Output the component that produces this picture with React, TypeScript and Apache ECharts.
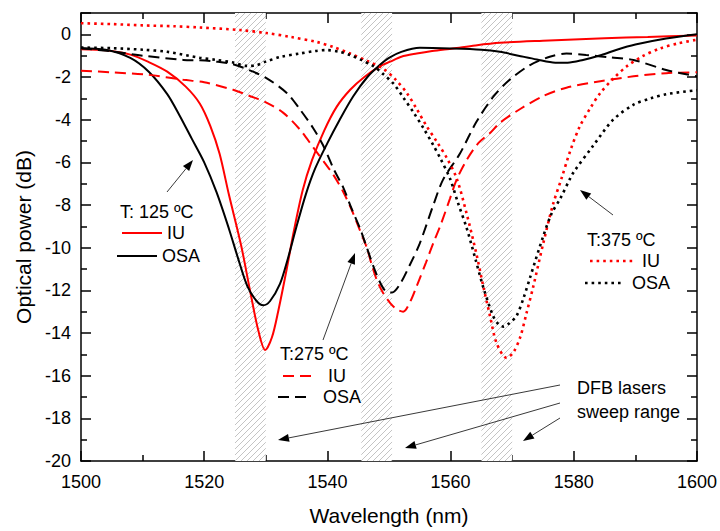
import React, { useEffect, useRef } from "react";
import * as echarts from "echarts";

// ---- data (wavelength nm, optical power dB) ----
const iu125: number[][] = [
  [1500, -0.7], [1504, -0.75], [1508, -0.95], [1511, -1.3], [1514, -1.75], [1517, -2.45],
  [1519.3, -3.25], [1521, -4.3], [1522.5, -5.6], [1524, -7.5], [1526, -9.9], [1527.5, -12.1],
  [1528.8, -13.9], [1529.9, -14.8], [1531, -14.2], [1532, -13.0], [1533.4, -11.0], [1534.5, -9.3],
  [1536, -7.3], [1537.5, -5.9], [1539.5, -4.5], [1541.5, -3.4], [1543.7, -2.6], [1546, -2.0],
  [1548.5, -1.5], [1550.2, -1.28], [1552, -1.05], [1554.5, -0.9], [1557, -0.78], [1560.4, -0.66],
  [1564, -0.52], [1568, -0.4], [1575, -0.3], [1585, -0.18], [1592, -0.12], [1600, -0.05],
];
const osa125: number[][] = [
  [1500, -0.65], [1504, -0.72], [1508, -1.1], [1511, -1.75], [1514, -2.8], [1516, -3.8],
  [1518, -4.9], [1520, -6.0], [1522, -7.4], [1524, -9.1], [1525.5, -10.5], [1527, -11.8],
  [1528.5, -12.5], [1529.6, -12.7], [1530.7, -12.5], [1532.3, -11.7], [1533.5, -10.6], [1535, -9.0],
  [1536.5, -7.5], [1538, -6.3], [1540, -5.1], [1542, -4.0], [1544.2, -2.9], [1546.5, -2.0],
  [1548.5, -1.44], [1550, -1.1], [1552, -0.82], [1555, -0.63], [1560, -0.66], [1565, -0.72],
  [1568, -0.82], [1571, -1.0], [1574, -1.18], [1577, -1.33], [1579, -1.33], [1581.5, -1.2],
  [1584.5, -0.97], [1587, -0.72], [1590, -0.48], [1595, -0.2], [1600, 0],
];
const iu275: number[][] = [
  [1500, -1.71], [1505, -1.78], [1511, -1.9], [1516.6, -2.13], [1520, -2.25], [1524.7, -2.6],
  [1527.5, -2.9], [1530.1, -3.2], [1532.8, -3.67], [1535.5, -4.45], [1537.7, -5.3], [1539.5, -6.0],
  [1541, -6.6], [1542.6, -7.4], [1543.9, -8.2], [1545.3, -9.2], [1546.4, -10.0], [1547.2, -10.8],
  [1548, -11.5], [1549, -12.1], [1550.2, -12.6], [1551.3, -12.9], [1552.3, -13.0], [1553.5, -12.5],
  [1554.5, -11.8], [1556, -10.7], [1557.3, -9.7], [1558.3, -9.0], [1559.9, -7.7], [1561, -6.8],
  [1562.6, -5.9], [1564.5, -5.1], [1566.5, -4.6], [1568, -4.15], [1571.3, -3.5], [1575, -2.9],
  [1578.8, -2.5], [1584.3, -2.2], [1589.7, -1.97], [1595, -1.82], [1600, -1.78],
];
const osa275: number[][] = [
  [1500, -0.65], [1505, -0.8], [1510, -1.0], [1516.6, -1.2], [1519.3, -1.22], [1522, -1.28],
  [1524.7, -1.4], [1527.5, -1.7], [1530.1, -2.05], [1533.4, -2.75], [1535.5, -3.5], [1537.7, -4.4],
  [1539.3, -5.2], [1541, -6.3], [1542.6, -7.2], [1543.9, -8.15], [1545.3, -9.1], [1546.4, -10.0],
  [1547.5, -10.9], [1548.5, -11.6], [1549.5, -12.05], [1550.5, -12.1], [1551.8, -11.7], [1553.4, -10.8],
  [1555, -9.8], [1557.2, -8.0], [1558.8, -6.8], [1561.5, -5.6], [1564.2, -4.1], [1567, -2.9],
  [1569.6, -2.13], [1572.9, -1.44], [1576.1, -1.05], [1578.8, -0.9], [1582, -0.97], [1586, -1.08],
  [1589.7, -1.2], [1595, -1.67], [1600, -1.97],
];
const iu375: number[][] = [
  [1500, 0.52], [1505, 0.48], [1510, 0.42], [1515, 0.38], [1519.3, 0.32], [1525.8, 0.2],
  [1530.1, 0.06], [1534, -0.12], [1538.3, -0.36], [1541, -0.6], [1543.7, -0.9], [1546.5, -1.25],
  [1549, -1.6], [1551, -2.1], [1552.9, -2.75], [1554.5, -3.5], [1556.1, -4.3], [1557.8, -5.05],
  [1559.4, -5.8], [1561, -6.76], [1562.6, -8.4], [1564.2, -10.3], [1565.3, -11.8], [1566.4, -13.2],
  [1567.5, -14.5], [1569.1, -15.17], [1570.2, -14.9], [1571.3, -14.2], [1572.3, -13.1], [1573.4, -11.85],
  [1575, -9.85], [1576.6, -8.0], [1578, -6.76], [1579.5, -5.4], [1581, -4.3], [1582.7, -3.45],
  [1584.3, -2.75], [1586.5, -2.05], [1588.6, -1.5], [1591, -1.05], [1594, -0.66], [1597, -0.42],
  [1600, -0.25],
];
const osa375: number[][] = [
  [1500, -0.62], [1505, -0.65], [1510, -0.72], [1514, -0.82], [1519.3, -1.1], [1522, -1.2],
  [1524.7, -1.32], [1526.9, -1.48], [1528.5, -1.45], [1530, -1.28], [1532.5, -1.05], [1535.5, -0.9],
  [1538, -0.78], [1539.9, -0.74], [1542, -0.82], [1543.7, -0.97], [1545.5, -1.2], [1547.5, -1.5],
  [1549, -1.85], [1550.7, -2.3], [1552.3, -2.95], [1554, -3.67], [1555.6, -4.4], [1557.2, -5.2],
  [1558.4, -5.85], [1559.9, -6.76], [1561.2, -7.9], [1562.6, -9.07], [1564, -10.5], [1565.3, -11.85],
  [1566.9, -13.2], [1567.8, -13.6], [1568.6, -13.7], [1569.5, -13.55], [1570.7, -13.2], [1571.8, -12.4],
  [1572.9, -11.4], [1575, -9.5], [1576.4, -8.4], [1577.8, -7.7], [1579.4, -6.76], [1580, -6.45],
  [1583.2, -5.2], [1586.4, -4.0], [1589.7, -3.3], [1592.5, -3.0], [1595.1, -2.8], [1600, -2.62],
];
const sweepRanges: number[][] = [[1525, 1530], [1545.5, 1550.5], [1565, 1570]];

const xMin = 1500, xMax = 1600, xStep = 20;
const yMin = -20, yMax = 1, yStep = 2;

const FONT = '"Liberation Sans", Arial, sans-serif';
const RED = "#ff0000";
const BLACK = "#000000";
const DASH = [11, 6];
const DOT = [2.6, 4];

function makeHatch() {
  const s = 6;
  const c = document.createElement("canvas");
  c.width = s;
  c.height = s;
  const ctx = c.getContext("2d")!;
  ctx.fillStyle = "#ffffff";
  ctx.fillRect(0, 0, s, s);
  ctx.strokeStyle = "#c4c4c4";
  ctx.lineWidth = 1;
  ctx.beginPath();
  ctx.moveTo(-1, s + 1);
  ctx.lineTo(s + 1, -1);
  ctx.moveTo(-1, 1);
  ctx.lineTo(1, -1);
  ctx.moveTo(s - 1, s + 1);
  ctx.lineTo(s + 1, s - 1);
  ctx.stroke();
  return c;
}

function arrow(x1: number, y1: number, x2: number, y2: number) {
  const dx = x2 - x1, dy = y2 - y1;
  const len = Math.sqrt(dx * dx + dy * dy);
  const ux = dx / len, uy = dy / len;
  const hl = 11, hw = 4;
  const bx = x2 - ux * hl, by = y2 - uy * hl;
  return [
    { type: "line", shape: { x1, y1, x2: bx, y2: by }, style: { stroke: "#222", lineWidth: 0.9 }, z: 50 },
    {
      type: "polygon",
      shape: { points: [[x2, y2], [bx - uy * hw, by + ux * hw], [bx + uy * hw, by - ux * hw]] },
      style: { fill: "#000" },
      z: 50,
    },
  ];
}

function txt(text: string, x: number, y: number) {
  return {
    type: "text",
    x,
    y,
    z: 50,
    style: { text, fill: "#000", fontSize: 18, fontFamily: FONT, verticalAlign: "middle", align: "left" },
  };
}

function sample(x1: number, x2: number, y: number, color: string, dash: number[] | null, w: number) {
  return {
    type: "line",
    z: 50,
    shape: { x1, y1: y, x2, y2: y },
    style: { stroke: color, lineWidth: w, lineDash: dash || undefined },
  };
}

export default function App() {
  const ref = useRef<HTMLDivElement>(null);
  useEffect(() => {
    if (!ref.current) return;
    const chart = echarts.init(ref.current, null, { renderer: "svg" });
    const hatch = makeHatch();

    const axisCommon = {
      axisLine: { show: true, onZero: false, lineStyle: { color: "#000", width: 1.5 } },
      axisTick: { show: true, inside: true, length: 10, lineStyle: { color: "#000", width: 1.5 } },
      minorTick: { show: true, splitNumber: 2, length: 6, lineStyle: { color: "#000", width: 1.5 } },
      splitLine: { show: false },
    };

    const lineSeries = (name: string, data: number[][], color: string, type: any, width: number) => ({
      name,
      type: "line",
      data,
      xAxisIndex: 0,
      yAxisIndex: 0,
      symbol: "none",
      smooth: 0.3,
      lineStyle: { color, width, type },
      z: 10,
    });

    const first: any = lineSeries("IU 125", iu125, RED, "solid", 2);
    first.markArea = {
      silent: true,
      z: 1,
      itemStyle: { color: { image: hatch, repeat: "repeat", imageWidth: 6, imageHeight: 6 } },
      data: sweepRanges.map(([a, b]) => [{ xAxis: a }, { xAxis: b }]),
    };

    const graphics: any[] = [
      txt("T: 125 ºC", 120, 212),
      sample(122, 162, 233, RED, null, 2),
      txt("IU", 167, 233),
      sample(117, 157, 256, BLACK, null, 2),
      txt("OSA", 162, 256),
      txt("T:275 ºC", 280, 354),
      sample(283, 316, 376, RED, DASH, 2),
      txt("IU", 328, 376),
      sample(278, 312, 397, BLACK, DASH, 2),
      txt("OSA", 323, 397),
      txt("T:375 ºC", 587, 240),
      sample(590, 633, 261, RED, DOT, 2.6),
      txt("IU", 642, 261),
      sample(585, 623, 283, BLACK, DOT, 2.6),
      txt("OSA", 632, 283),
      txt("DFB lasers", 577, 388),
      txt("sweep range", 577, 412),
      ...arrow(167, 192, 193, 160),
      ...arrow(323, 340, 355, 253),
      ...arrow(613, 215, 580, 190),
      ...arrow(560, 385, 278, 440),
      ...arrow(560, 403, 405, 448),
      ...arrow(560, 418, 523, 441),
    ];

    chart.setOption({
      animation: false,
      backgroundColor: "#ffffff",
      grid: { left: 81, right: 23, top: 13, bottom: 65, containLabel: false },
      xAxis: [
        {
          type: "value",
          min: xMin,
          max: xMax,
          interval: xStep,
          position: "bottom",
          ...axisCommon,
          axisLabel: {
            color: "#000",
            fontSize: 18,
            fontFamily: FONT,
            margin: 12,
            formatter: (v: number) => String(v),
          },
          name: "Wavelength (nm)",
          nameLocation: "middle",
          nameGap: 44,
          nameTextStyle: { color: "#000", fontSize: 21, fontFamily: FONT },
        },
        {
          type: "value",
          min: xMin,
          max: xMax,
          interval: xStep,
          position: "top",
          ...axisCommon,
          axisLabel: { show: false },
        },
      ],
      yAxis: [
        {
          type: "value",
          min: yMin,
          max: yMax,
          interval: yStep,
          position: "left",
          ...axisCommon,
          axisLabel: {
            color: "#000",
            fontSize: 18,
            fontFamily: FONT,
            margin: 10,
            formatter: (v: number) => (v > 0 ? "" : String(v)),
          },
          name: "Optical power (dB)",
          nameLocation: "middle",
          nameGap: 42,
          nameTextStyle: { color: "#000", fontSize: 21, fontFamily: FONT },
        },
        {
          type: "value",
          min: yMin,
          max: yMax,
          interval: yStep,
          position: "right",
          ...axisCommon,
          axisLabel: { show: false },
        },
      ],
      series: [
        first,
        lineSeries("OSA 125", osa125, BLACK, "solid", 2),
        lineSeries("IU 275", iu275, RED, DASH, 2),
        lineSeries("OSA 275", osa275, BLACK, DASH, 2),
        lineSeries("IU 375", iu375, RED, DOT, 2.6),
        lineSeries("OSA 375", osa375, BLACK, DOT, 2.6),
      ],
      graphic: graphics,
    });
    return () => chart.dispose();
  }, []);
  return <div ref={ref} style={{ width: 720, height: 531, position: "absolute", left: 0, top: 0 }} />;
}
